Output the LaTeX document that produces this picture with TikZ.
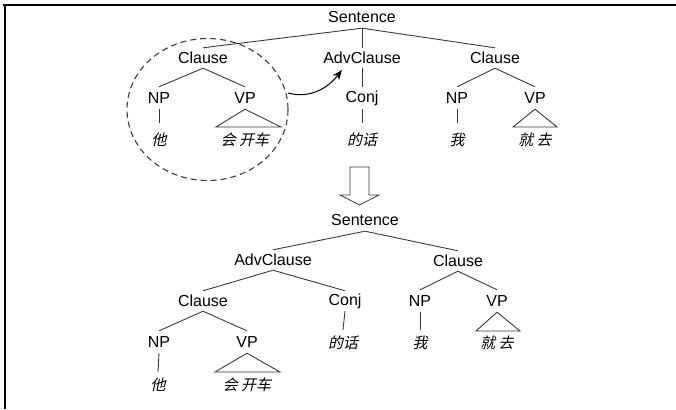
\documentclass[tikz,border=0pt]{standalone}
\usepackage{fontspec}
\setmainfont{Liberation Sans}
\newfontfamily\cjk[FakeSlant=0.22]{Noto Sans CJK SC}
\usetikzlibrary{arrows.meta}
\definecolor{linegray}{HTML}{3A3A3A}
\tikzset{
  lbl/.style={inner sep=0pt, minimum height=22pt, font=\fontsize{16}{19}\selectfont},
  leaf/.style={inner sep=0pt, minimum height=26pt, font=\cjk\fontsize{15}{18}\selectfont},
  topleaf/.style={leaf, minimum height=34pt},
  branch/.style={draw=linegray, line width=0.9pt},
  frameline/.style={draw=black, line width=1.8pt},
}
\begin{document}
\begin{tikzpicture}[x=1pt,y=-1pt]
\useasboundingbox (0,0) rectangle (676,409);
% frame
\draw[frameline] (3,4.8) -- (676,4.8);
\draw[frameline] (4.8,4.8) -- (4.8,409);

% ---------- top tree ----------
\node[lbl] (s1) at (362,17) {Sentence};
\node[lbl, minimum height=20pt] (c1) at (203,58) {Clause};
\node[lbl, minimum height=20pt] (a1) at (362,58) {AdvClause};
\node[lbl, minimum height=20pt] (c2) at (495,58) {Clause};
\node[lbl] (np1) at (159,98) {NP};
\node[lbl] (vp1) at (245,98) {VP};
\node[lbl] (cj1) at (362,98) {Conj};
\node[lbl] (np2) at (457,98) {NP};
\node[lbl] (vp2) at (535,98) {VP};
\node[topleaf] (l1) at (159,140) {他};
\node[topleaf] (l2) at (245,140) {会 开车};
\node[topleaf] (l3) at (362,140) {的话};
\node[topleaf] (l4) at (457,140) {我};
\node[topleaf] (l5) at (535,140) {就 去};

\draw[branch] (s1.south) -- (c1.north);
\draw[branch] (s1.south) -- (a1.north);
\draw[branch] (s1.south) -- (c2.north);
\draw[branch] (c1.south) -- (np1.north);
\draw[branch] (c1.south) -- (vp1.north);
\draw[branch] (a1.south) -- (cj1.north);
\draw[branch] (c2.south) -- (np2.north);
\draw[branch] (c2.south) -- (vp2.north);
\draw[branch] (np1.south) -- (l1.north);
\draw[branch] (cj1.south) -- (l3.north);
\draw[branch] (np2.south) -- (l4.north);
\coordinate (t1l) at (216,127);
\coordinate (t1r) at (281,127);
\draw[branch] (vp1.south) -- (t1l) -- (t1r) -- cycle;
\coordinate (t2l) at (513,127);
\coordinate (t2r) at (557,127);
\draw[branch] (vp2.south) -- (t2l) -- (t2r) -- cycle;

% dashed circle and curved arrow
\draw[draw=linegray, line width=1.1pt, dash pattern=on 6pt off 4pt] (207.5,109.5) ellipse [x radius=80.5, y radius=71];
\coordinate (arrS) at (288,93);
\coordinate (arrE) at (342,70);
\draw[draw=black, line width=1pt, -{Stealth[length=10pt,width=8pt]}] (arrS) to[out=-15,in=232] (arrE);

% big hollow arrow
\draw[draw=linegray, line width=0.8pt] (350,167) -- (369,167) -- (369,195) -- (379,195) -- (359.5,205) -- (340,195) -- (350,195) -- cycle;

% ---------- bottom tree ----------
\node[lbl] (s2) at (365,220) {Sentence};
\node[lbl, minimum height=20pt] (a2) at (273,260) {AdvClause};
\node[lbl, minimum height=20pt] (c3) at (458,261) {Clause};
\node[lbl, minimum height=20pt] (c4) at (203,301) {Clause};
\node[lbl, minimum height=20pt] (cj2) at (345,301) {Conj};
\node[lbl] (np4) at (420,301) {NP};
\node[lbl] (vp4) at (497,301) {VP};
\node[lbl] (np3) at (159,342) {NP};
\node[lbl] (vp3) at (247,342) {VP};
\node[leaf] (l6) at (343,343) {的话};
\node[leaf] (l8) at (420,343) {我};
\node[leaf] (l10) at (497,343) {就 去};
\node[leaf] (l7) at (158,385) {他};
\node[leaf] (l9) at (247,385) {会 开车};

\draw[branch] (s2.south) -- (a2.north);
\draw[branch] (s2.south) -- (c3.north);
\draw[branch] (a2.south) -- (c4.north);
\draw[branch] (a2.south) -- (cj2.north);
\draw[branch] (c4.south) -- (np3.north);
\draw[branch] (c4.south) -- (vp3.north);
\draw[branch] (c3.south) -- (np4.north);
\draw[branch] (c3.south) -- (vp4.north);
\draw[branch] (cj2.south) -- (l6.north);
\draw[branch] (np4.south) -- (l8.north);
\draw[branch] (np3.south) -- (l7.north);
\coordinate (t3l) at (215,372);
\coordinate (t3r) at (280,372);
\draw[branch] (vp3.south) -- (t3l) -- (t3r) -- cycle;
\coordinate (t4l) at (476,331);
\coordinate (t4r) at (520,331);
\draw[branch] (vp4.south) -- (t4l) -- (t4r) -- cycle;
\end{tikzpicture}
\end{document}
